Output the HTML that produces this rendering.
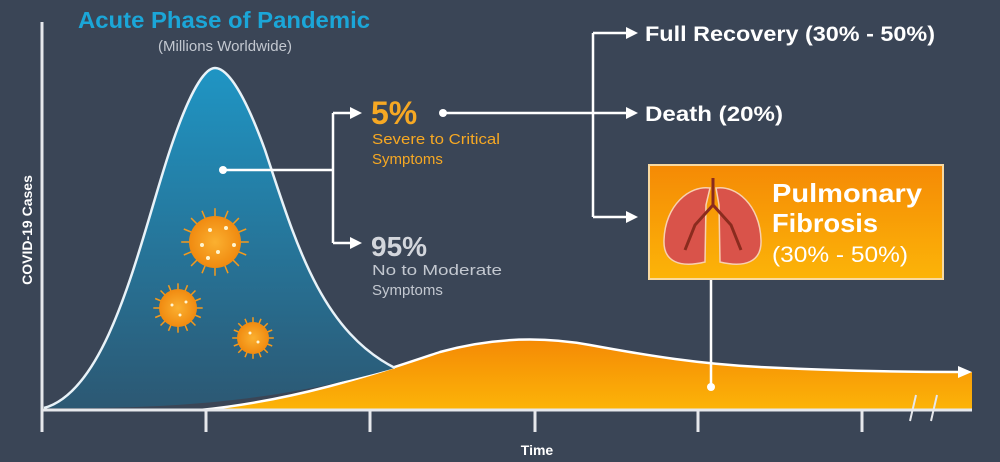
<!DOCTYPE html>
<html><head><style>body{margin:0;background:#3a4556}svg{display:block}text{font-family:"Liberation Sans",sans-serif}</style></head>
<body>
<svg width="1000" height="462" viewBox="0 0 1000 462">
<defs>
<linearGradient id="bl" x1="0" y1="0" x2="0" y2="1"><stop offset="0" stop-color="#1f95c4"/><stop offset="1" stop-color="#2c5873"/></linearGradient>
<linearGradient id="or" x1="0" y1="0" x2="0" y2="1"><stop offset="0" stop-color="#f58a05"/><stop offset="1" stop-color="#fcb408"/></linearGradient>
<radialGradient id="vr"><stop offset="0" stop-color="#fbb030"/><stop offset="1" stop-color="#f08a10"/></radialGradient>
<g id="v"><g stroke="#f39a1d" stroke-width="1.5"><line x1="-1.3" y1="0" x2="1.3" y2="0" vector-effect="non-scaling-stroke"/><line x1="0" y1="-1.3" x2="0" y2="1.3" vector-effect="non-scaling-stroke"/><line x1="-0.92" y1="-0.92" x2="0.92" y2="0.92" vector-effect="non-scaling-stroke"/><line x1="-0.92" y1="0.92" x2="0.92" y2="-0.92" vector-effect="non-scaling-stroke"/><line x1="-1.2" y1="-0.5" x2="1.2" y2="0.5" vector-effect="non-scaling-stroke"/><line x1="-1.2" y1="0.5" x2="1.2" y2="-0.5" vector-effect="non-scaling-stroke"/><line x1="-0.5" y1="-1.2" x2="0.5" y2="1.2" vector-effect="non-scaling-stroke"/><line x1="0.5" y1="-1.2" x2="-0.5" y2="1.2" vector-effect="non-scaling-stroke"/></g><circle r="1" fill="url(#vr)"/></g>
</defs>
<path d="M200,410 C300,400 380,372 440,352 C490,338 540,336 590,345 C650,356 700,364 760,367 C840,371 900,372 972,372 L972,410 Z" fill="url(#or)"/>
<path d="M200,410 C300,400 380,372 440,352 C490,338 540,336 590,345 C650,356 700,364 760,367 C840,371 900,372 962,372" fill="none" stroke="#fff" stroke-width="2.5"/>
<path d="M958,366 L972,372 L958,378 Z" fill="#fff"/>
<path d="M44,408 C110,390 140,240 170,150 C190,90 205,68 215,68 C228,68 245,95 265,150 C295,240 320,330 395,368 C300,395 200,410 44,408 Z" fill="url(#bl)"/>
<path d="M44,408 C110,390 140,240 170,150 C190,90 205,68 215,68 C228,68 245,95 265,150 C295,240 320,330 395,368" fill="none" stroke="#e8f2f8" stroke-width="2.5"/>
<g stroke="#e6e8ec" stroke-width="3">
<line x1="42" y1="22" x2="42" y2="432"/><line x1="42" y1="410" x2="972" y2="410"/>
<line x1="206" y1="410" x2="206" y2="432"/><line x1="370" y1="410" x2="370" y2="432"/><line x1="535" y1="410" x2="535" y2="432"/><line x1="698" y1="410" x2="698" y2="432"/><line x1="862" y1="410" x2="862" y2="432"/>
<line x1="916" y1="395" x2="910" y2="421" stroke-width="2"/><line x1="937" y1="395" x2="931" y2="421" stroke-width="2"/>
</g>
<use href="#v" transform="translate(215,242) scale(26)"/>
<use href="#v" transform="translate(178,308) scale(19)"/>
<use href="#v" transform="translate(253,338) scale(16)"/>
<g fill="#fff5d0"><circle cx="210" cy="230" r="2"/><circle cx="226" cy="228" r="2"/><circle cx="202" cy="245" r="2"/><circle cx="234" cy="245" r="2"/><circle cx="218" cy="252" r="2"/><circle cx="208" cy="258" r="2"/><circle cx="172" cy="305" r="1.5"/><circle cx="186" cy="302" r="1.5"/><circle cx="180" cy="315" r="1.5"/><circle cx="250" cy="333" r="1.5"/><circle cx="258" cy="342" r="1.5"/></g>
<g stroke="#fff" stroke-width="2.5" fill="none">
<line x1="223" y1="170" x2="333" y2="170"/><line x1="333" y1="113" x2="333" y2="243"/>
<line x1="333" y1="113" x2="352" y2="113"/><line x1="333" y1="243" x2="352" y2="243"/>
<line x1="443" y1="113" x2="628" y2="113"/>
<line x1="593" y1="33" x2="593" y2="217"/><line x1="593" y1="33" x2="628" y2="33"/><line x1="593" y1="217" x2="628" y2="217"/>
<line x1="711" y1="279" x2="711" y2="386"/>
</g>
<g fill="#fff"><circle cx="223" cy="170" r="4"/><circle cx="443" cy="113" r="4"/><circle cx="711" cy="387" r="4"/>
<path d="M350,107 L362,113 L350,119Z"/><path d="M350,237 L362,243 L350,249Z"/>
<path d="M626,27 L638,33 L626,39Z"/><path d="M626,107 L638,113 L626,119Z"/><path d="M626,211 L638,217 L626,223Z"/></g>
<rect x="649" y="165" width="294" height="114" fill="url(#or)" stroke="#f8d9a0" stroke-width="2"/>
<g>
<path d="M710,188 C690,185 665,205 664,240 C663,262 680,268 705,262 L706,205 Z" fill="#d9534a" stroke="#f8d0b0" stroke-width="1.5"/>
<path d="M716,188 C736,185 760,205 761,240 C762,262 745,268 720,262 L719,205 Z" fill="#d9534a" stroke="#f8d0b0" stroke-width="1.5"/>
<path d="M713,178 L713,205 M713,205 L695,225 L685,250 M713,205 L731,225 L741,250" stroke="#8a2b1e" stroke-width="3" fill="none"/>
</g>
<text x="772" y="202" font-size="26" font-weight="bold" fill="#fff" textLength="150" lengthAdjust="spacingAndGlyphs">Pulmonary</text>
<text x="772" y="232" font-size="26" font-weight="bold" fill="#fff" textLength="106" lengthAdjust="spacingAndGlyphs">Fibrosis</text>
<text x="772" y="262" font-size="22" fill="#fff" textLength="136" lengthAdjust="spacingAndGlyphs">(30% - 50%)</text>
<text x="78" y="28" font-size="23" font-weight="bold" fill="#1ba6d8" textLength="292" lengthAdjust="spacingAndGlyphs">Acute Phase of Pandemic</text>
<text x="225" y="51" font-size="15" fill="#c3c8d0" text-anchor="middle">(Millions Worldwide)</text>
<text x="645" y="41" font-size="21" font-weight="bold" fill="#fff" textLength="290" lengthAdjust="spacingAndGlyphs">Full Recovery (30% - 50%)</text>
<text x="645" y="121" font-size="21" font-weight="bold" fill="#fff" textLength="138" lengthAdjust="spacingAndGlyphs">Death (20%)</text>
<text x="371" y="124" font-size="32" font-weight="bold" fill="#f6a823">5%</text>
<text x="372" y="144" font-size="15" fill="#f6a823" textLength="128" lengthAdjust="spacingAndGlyphs">Severe to Critical</text>
<text x="372" y="164" font-size="15" fill="#f6a823">Symptoms</text>
<text x="371" y="256" font-size="28" font-weight="bold" fill="#d3d6dc">95%</text>
<text x="372" y="275" font-size="15" fill="#c3c8d0" textLength="130" lengthAdjust="spacingAndGlyphs">No to Moderate</text>
<text x="372" y="295" font-size="15" fill="#c3c8d0">Symptoms</text>
<text transform="translate(32,230) rotate(-90)" font-size="14" font-weight="bold" fill="#fff" text-anchor="middle">COVID-19 Cases</text>
<text x="537" y="455" font-size="14" font-weight="bold" fill="#fff" text-anchor="middle">Time</text>
</svg>
</body></html>
